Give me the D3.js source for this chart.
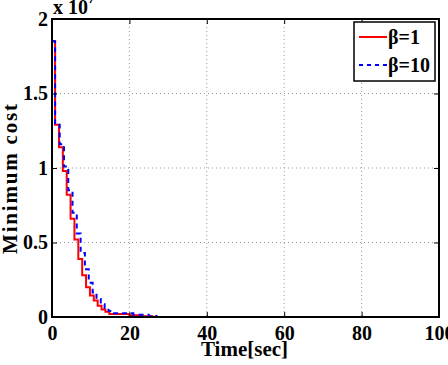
<!DOCTYPE html>
<html><head><meta charset="utf-8">
<style>
    body { margin: 0; background: white; }
    svg { display: block; font-family: "Liberation Serif", "DejaVu Serif", serif; font-weight: bold; }
</style>
<script src="https://d3js.org/d3.v7.min.js"></script>
</head>
<body>
<svg id="chart"></svg>
<script>
    // step data, cost in units of 10^7
    let redTimes  = [0, 0.8, 1.8, 2.8, 3.8, 4.8, 5.8, 6.8, 7.8, 8.8, 9.8, 10.8, 11.8, 12.8, 13.8, 14.8, 20, 23, 26, 100]
    let redCost   = [1.85, 1.29, 1.14, 0.98, 0.82, 0.66, 0.52, 0.39, 0.28, 0.20, 0.145, 0.11, 0.075, 0.05, 0.035, 0.02, 0.012, 0.005, 0, 0]
    let blueTimes = [0, 0.8, 2.0, 3.1, 4.2, 5.3, 6.4, 7.4, 8.5, 9.5, 10.5, 11.5, 12.6, 13.6, 14.6, 15.6, 21, 25, 27, 100]
    let blueCost  = [1.85, 1.29, 1.16, 1.01, 0.85, 0.70, 0.56, 0.43, 0.32, 0.23, 0.165, 0.12, 0.085, 0.06, 0.04, 0.025, 0.015, 0.006, 0, 0]

    let xTicks = [0, 20, 40, 60, 80, 100]
    let yTicks = [0, 0.5, 1, 1.5, 2]
    let legendLabels = ["β=1", "β=10"]

    let width = 448, height = 365
    let margin = {top: 19, right: 9, bottom: 48, left: 52}
    let bodyWidth = width - margin.left - margin.right
    let bodyHeight = height - margin.top - margin.bottom

    let svg = d3.select('#chart').attr('width', width).attr('height', height)

    let xScale = d3.scaleLinear().domain([0, 100]).range([0, bodyWidth])
    let yScale = d3.scaleLinear().domain([0, 2]).range([bodyHeight, 0])

    let body = svg.append('g').attr('transform', `translate(${margin.left},${margin.top})`)

    // dotted grid
    body.selectAll('.gx').data(xTicks.slice(1, -1)).enter().append('line')
        .attr('x1', d => xScale(d)).attr('x2', d => xScale(d))
        .attr('y1', 0).attr('y2', bodyHeight)
        .attr('stroke', '#999').attr('stroke-width', 1).attr('stroke-dasharray', '1,3')
    body.selectAll('.gy').data(yTicks.slice(1, -1)).enter().append('line')
        .attr('y1', d => yScale(d)).attr('y2', d => yScale(d))
        .attr('x1', 0).attr('x2', bodyWidth)
        .attr('stroke', '#999').attr('stroke-width', 1).attr('stroke-dasharray', '1,3')

    // series
    let line = d3.line().curve(d3.curveStepAfter)
        .x(d => xScale(d[0])).y(d => yScale(d[1]))
    body.append('path').datum(d3.zip(redTimes, redCost))
        .attr('d', line).attr('fill', 'none').attr('stroke', '#ff0000').attr('stroke-width', 2)
    body.append('path').datum(d3.zip(blueTimes, blueCost))
        .attr('d', line).attr('fill', 'none').attr('stroke', '#0000ff').attr('stroke-width', 2)
        .attr('stroke-dasharray', '5,4')

    // axes with inward ticks (box style)
    let styleAxis = g => {
        g.select('.domain').remove()
        g.selectAll('.tick line').attr('stroke', 'black').attr('stroke-width', 1)
        g.selectAll('text').attr('font-family', '"Liberation Serif", serif').attr('font-weight', 'bold')
            .attr('font-size', 20).attr('fill', 'black')
    }
    body.append('g').attr('transform', `translate(0,${bodyHeight})`)
        .call(d3.axisBottom(xScale).tickValues(xTicks).tickSizeInner(-5))
        .call(styleAxis)
        .selectAll('text').attr('y', 23).attr('dy', null)
    body.append('g')
        .call(d3.axisLeft(yScale).tickValues(yTicks).tickFormat(d3.format('')).tickSizeInner(-5).tickPadding(4))
        .call(styleAxis)
    body.append('g')
        .call(d3.axisTop(xScale).tickValues(xTicks).tickSizeInner(-5).tickFormat(''))
        .call(styleAxis)
    body.append('g').attr('transform', `translate(${bodyWidth},0)`)
        .call(d3.axisRight(yScale).tickValues(yTicks).tickSizeInner(-5).tickFormat(''))
        .call(styleAxis)

    body.append('rect').attr('width', bodyWidth).attr('height', bodyHeight)
        .attr('fill', 'none').attr('stroke', 'black').attr('stroke-width', 2)

    // exponent label, its superscript runs off the top as in the original
    let expo = svg.append('text').attr('x', margin.left + 1).attr('y', 14)
        .attr('font-size', 20).text('x 10')
    expo.append('tspan').attr('dy', -11).attr('font-size', 13).text('7')

    // axis titles
    svg.append('text').attr('x', margin.left + bodyWidth / 2 - 1).attr('y', 356)
        .attr('text-anchor', 'middle').attr('font-size', 21).text('Time[sec]')
    svg.append('text').attr('transform', 'translate(17,179) rotate(-90)')
        .attr('text-anchor', 'middle').attr('font-size', 21)
        .attr('textLength', 150).attr('lengthAdjust', 'spacing').text('Minimum cost')

    // legend
    let legend = svg.append('g').attr('transform', 'translate(354,22)')
    legend.append('rect').attr('width', 81).attr('height', 59)
        .attr('fill', 'white').attr('stroke', 'black').attr('stroke-width', 1.5)
    let colors = ['#ff0000', '#0000ff']
    let dashes = [null, '4,4']
    legendLabels.forEach((lab, i) => {
        let y = 15 + i * 28
        legend.append('line').attr('x1', 5).attr('x2', 33).attr('y1', y).attr('y2', y)
            .attr('stroke', colors[i]).attr('stroke-width', 2).attr('stroke-dasharray', dashes[i])
        legend.append('text').attr('x', 34).attr('y', y + 7).attr('font-size', 20).text(lab)
    })
</script>
</body></html>
